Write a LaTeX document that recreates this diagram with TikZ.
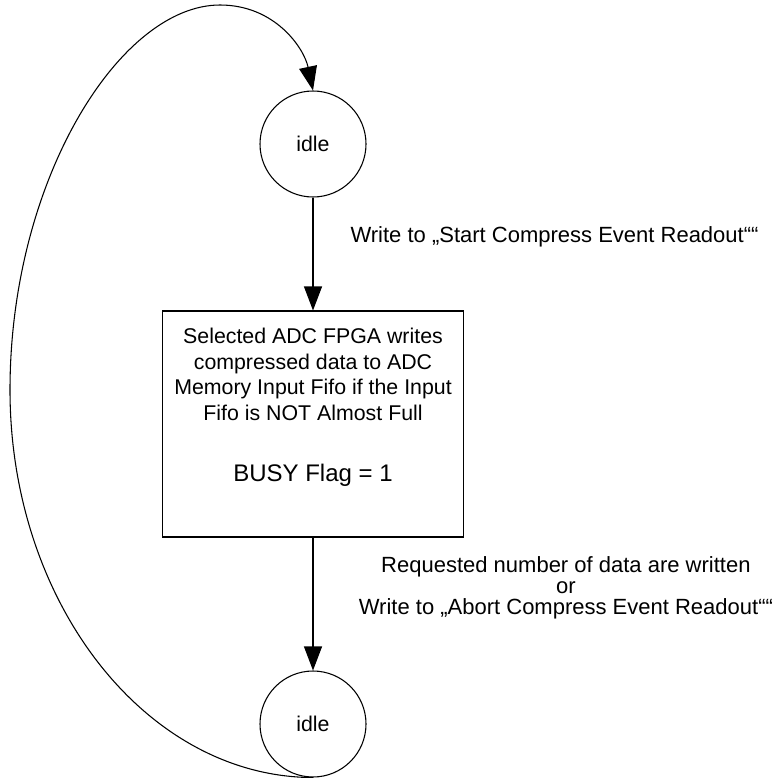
\documentclass[tikz,border=0pt]{standalone}
\usepackage{fontspec}
\setmainfont{Liberation Sans}
\usetikzlibrary{arrows.meta}

\begin{document}
\begin{tikzpicture}[x=0.75pt, y=-0.75pt,
    state/.style={draw, circle, line width=0.8pt, minimum size=79.5pt, inner sep=0pt, font=\fontsize{16}{19}\selectfont},
    action/.style={draw, rectangle, line width=0.8pt, minimum width=225.75pt, minimum height=169.5pt, align=center, font=\fontsize{16}{19.3}\selectfont},
    lbl/.style={inner sep=0pt, align=center, font=\fontsize{16.5}{15.75}\selectfont},
    arr/.style={draw, line width=0.8pt, -{Triangle[length=18pt,width=13.5pt]}}]
  \useasboundingbox (0,0) rectangle (771,778);

  \node[state] (idletop) at (313,144) {idle};
  \node[action] (busy) at (313,424) {Selected ADC FPGA writes\\compressed data to ADC\\Memory Input Fifo if the Input\\Fifo is NOT Almost Full\\[26pt]{\fontsize{18}{22}\selectfont BUSY Flag = 1}\\[10pt]\mbox{}};
  \node[state] (idlebot) at (313,724) {idle};

  \coordinate (loopleft) at (10,390);
  \coordinate (looptop) at (220,5);

  \draw[arr] (idletop) -- node[lbl, pos=0.35, anchor=west, xshift=27.75pt] {Write to „Start Compress Event Readout““} (busy);
  \draw[arr] (busy) -- node[lbl, pos=0.38, anchor=west, xshift=34pt] {Requested number of data are written\\or\\Write to „Abort Compress Event Readout““} (idlebot);

  % way back to idle
  \draw[arr] (idlebot.south) .. controls (146,777) and (10,603) .. (loopleft)
    .. controls (10,180) and (120,5) .. (looptop)
    .. controls (275,5) and (304,48) .. (idletop.north);
\end{tikzpicture}
\end{document}
